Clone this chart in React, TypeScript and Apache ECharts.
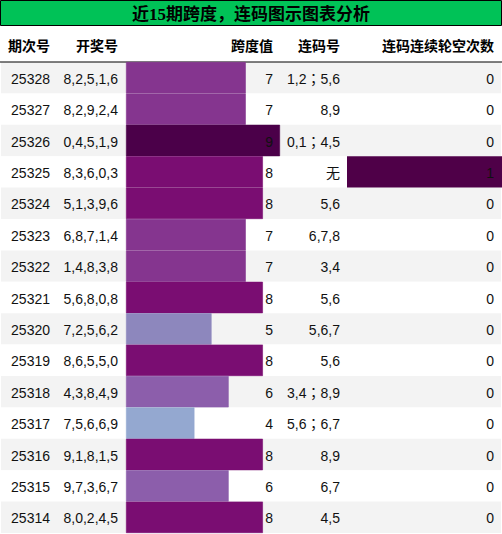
import { useRef, useEffect } from "react";
import * as echarts from "echarts";

const periods = ["25328", "25327", "25326", "25325", "25324", "25323", "25322", "25321", "25320", "25319", "25318", "25317", "25316", "25315", "25314"];
const draws = ["8,2,5,1,6", "8,2,9,2,4", "0,4,5,1,9", "8,3,6,0,3", "5,1,3,9,6", "6,8,7,1,4", "1,4,8,3,8", "5,6,8,0,8", "7,2,5,6,2", "8,6,5,5,0", "4,3,8,4,9", "7,5,6,6,9", "9,1,8,1,5", "9,7,3,6,7", "8,0,2,4,5"];
const spans = [7, 7, 9, 8, 8, 7, 7, 8, 5, 8, 6, 4, 8, 6, 8];
const links = ["1,2；5,6", "8,9", "0,1；4,5", "无", "5,6", "6,7,8", "3,4", "5,6", "5,6,7", "5,6", "3,4；8,9", "5,6；6,7", "8,9", "6,7", "4,5"];
const gaps = [0, 0, 0, 1, 0, 0, 0, 0, 0, 0, 0, 0, 0, 0, 0];
const headers = ["期次号", "开奖号", "跨度值", "连码号", "连码连续轮空次数"];

// colour scale of the data bars (Excel-like)
const spanColors: Record<number, string> = {
  4: "#94a8d0",
  5: "#8d87bd",
  6: "#8c5eab",
  7: "#85358f",
  8: "#7a0d72",
  9: "#4b0049",
};
const gapColor = "#4f0048";

// right edges of the text columns
const colRight = [50, 118, 273, 340, 494];
const FONT = "'Liberation Sans', 'Noto Sans CJK SC', sans-serif";
// the link column uses a font with centred full-width punctuation
const LINK_FONT = "'Liberation Sans', 'Noto Sans CJK TC', sans-serif";
const TOP = 62;
const BOTTOM = 1;

export default function App() {
  const chartRef = useRef<HTMLDivElement>(null);

  useEffect(() => {
    if (!chartRef.current) return;
    const chart = echarts.init(chartRef.current, undefined, { renderer: "svg" });

    const rowIdx = periods.map((_, i) => [0, i]);

    const option: any = {
      animation: false,
      backgroundColor: "#ffffff",
      grid: [
        { left: 0, right: 0, top: TOP, bottom: BOTTOM },
        { left: 126, width: 154, top: TOP, bottom: BOTTOM },
        { left: 347, width: 155, top: TOP, bottom: BOTTOM },
      ],
      xAxis: [
        { type: "value", gridIndex: 0, min: 0, max: 1, show: false },
        { type: "value", gridIndex: 1, min: 0, max: 9, show: false },
        { type: "value", gridIndex: 2, min: 0, max: 1, show: false },
      ],
      yAxis: [0, 1, 2].map((g) => ({
        type: "category",
        gridIndex: g,
        data: periods,
        inverse: true,
        show: false,
      })),
      graphic: [
        {
          type: "rect",
          shape: { x: 0.5, y: 0.5, width: 501, height: 25 },
          style: { fill: "#00c257", stroke: "#000", lineWidth: 1 },
          z: 1,
        },
        {
          type: "text",
          x: 251,
          y: 14,
          z: 2,
          style: {
            text: "近{s|15}期跨度，连码图示图表分析",
            align: "center",
            verticalAlign: "middle",
            font: `bold 17px ${FONT}`,
            fill: "#000",
            rich: {
              s: { fontFamily: "'Liberation Serif', serif", fontWeight: "bold", fontSize: 17, fill: "#000" },
            },
          },
        },
        ...headers.map((h, i) => ({
          type: "text",
          x: colRight[i],
          y: 46,
          z: 2,
          style: {
            text: h,
            align: "right",
            verticalAlign: "middle",
            font: `bold 14px ${FONT}`,
            fill: "#000",
          },
        })),
        {
          type: "line",
          shape: { x1: 0, y1: 62, x2: 502, y2: 62 },
          style: { stroke: "#000", lineWidth: 1.2 },
          z: 2,
        },
      ],
      series: [
        {
          type: "custom",
          xAxisIndex: 0,
          yAxisIndex: 0,
          z: 0,
          silent: true,
          data: rowIdx,
          encode: { x: 0, y: 1 },
          renderItem: (params: any, api: any) => {
            const i = api.value(1);
            const c = api.coord([0, i]);
            const h = api.size([0, 1])[1];
            return {
              type: "rect",
              shape: { x: params.coordSys.x + 1, y: c[1] - h / 2, width: params.coordSys.width - 2, height: h },
              style: { fill: i % 2 === 0 ? "#f3f3f3" : "#ffffff" },
            };
          },
        },
        {
          type: "bar",
          xAxisIndex: 1,
          yAxisIndex: 1,
          z: 2,
          barWidth: "100%",
          data: spans.map((v) => ({
            value: v,
            itemStyle: { color: spanColors[v], borderColor: spanColors[v], borderWidth: 0.6 },
          })),
        },
        {
          type: "bar",
          xAxisIndex: 2,
          yAxisIndex: 2,
          z: 2,
          barWidth: "100%",
          data: gaps.map((v) => ({ value: v, itemStyle: { color: gapColor } })),
        },
        {
          type: "custom",
          xAxisIndex: 0,
          yAxisIndex: 0,
          z: 5,
          silent: true,
          data: rowIdx,
          encode: { x: 0, y: 1 },
          renderItem: (_params: any, api: any) => {
            const i = api.value(1);
            const y = api.coord([0, i])[1];
            const cells = [periods[i], draws[i], String(spans[i]), links[i], String(gaps[i])];
            return {
              type: "group",
              children: cells.map((t, k) => ({
                type: "text",
                x: colRight[k],
                y: y + 1,
                style: {
                  text: t,
                  align: "right",
                  verticalAlign: "middle",
                  font: `14px ${k === 3 ? LINK_FONT : FONT}`,
                  fill: "#111",
                },
              })),
            };
          },
        },
      ],
    };

    chart.setOption(option);
    return () => chart.dispose();
  }, []);

  return (
    <div
      ref={chartRef}
      style={{ position: "absolute", left: 0, top: 0, width: 502, height: 534 }}
    />
  );
}
